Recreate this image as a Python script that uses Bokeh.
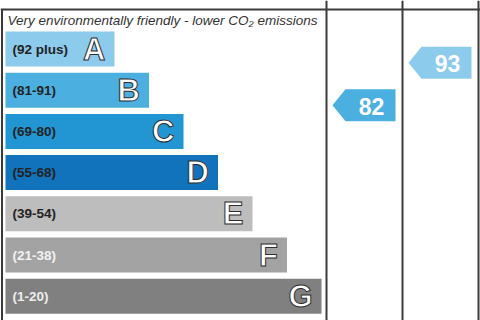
from bokeh.plotting import figure
from bokeh.models import ColumnDataSource, Range1d
from bokeh.core.properties import value
from bokeh.embed import file_html
from bokeh.resources import INLINE

# ---- data ----
bands = ["A", "B", "C", "D", "E", "F", "G"]
band_ranges = ["(92 plus)", "(81-91)", "(69-80)", "(55-68)", "(39-54)", "(21-38)", "(1-20)"]
band_lo = [92, 81, 69, 55, 39, 21, 1]
band_hi = [100, 91, 80, 68, 54, 38, 20]
current_score = 82
potential_score = 93
column_titles = ["Current", "Potential"]
top_note = "Very environmentally friendly - lower CO\u2082 emissions"
bottom_note = "Not environmentally friendly - higher CO\u2082 emissions"

# ---- styles ----
bar_colors = ["#8ccbeb", "#4bb0e0", "#2196d3", "#1173bb", "#bdbdbd", "#a3a3a3", "#808080"]
label_colors = ["#222222"] * 5 + ["#f2f2f2", "#eeeeee"]
line_color = "#3a3a3a"
W, H = 480, 320
bar_left = 5
bar_first_right = 114
bar_step = 34.5
row_top0 = 31
row_pitch = 41.2
bar_h = 35
col_edges = [326, 402, 478]

p = figure(width=W, height=H, output_backend="svg", toolbar_location=None,
           x_range=Range1d(0, W), y_range=Range1d(H, 0), min_border=0)
p.axis.visible = False
p.grid.visible = False
p.outline_line_color = None
p.background_fill_color = "white"

n = len(bands)
tops = [row_top0 + i * row_pitch for i in range(n)]
rights = [bar_first_right + i * bar_step for i in range(n)]
src = ColumnDataSource(dict(
    left=[bar_left] * n, right=rights, top=tops, bottom=[t + bar_h for t in tops],
    yc=[t + bar_h / 2 for t in tops], color=bar_colors, band=bands,
    rng=band_ranges, lblcol=label_colors,
    lx=[bar_left + 7] * n, bx=[r - 9 for r in rights],
))
p.quad(left="left", right="right", top="top", bottom="bottom", fill_color="color",
       line_color=None, source=src)
p.text(x="lx", y="yc", text="rng", text_color="lblcol", source=src,
       text_font=value("Liberation Sans"), text_font_style="bold",
       text_font_size="13.5px", text_baseline="middle", text_align="left")
p.text(x="bx", y="yc", text="band", text_color="white", source=src,
       text_font=value("Liberation Sans"), text_font_style="bold",
       text_font_size="31px", text_baseline="middle", text_align="right",
       text_outline_color="#2e2e2e")

# frame lines
p.segment(x0=[0], y0=[9], x1=[W], y1=[9], line_color=line_color, line_width=2)
p.segment(x0=[1.5] + col_edges, y0=[9, 0, 0, 0], x1=[1.5] + col_edges, y1=[H] * 4,
          line_color=line_color, line_width=2)

# notes
p.text(x=[7], y=[19.5], text=[top_note], text_font=value("Liberation Sans"),
       text_font_style="italic", text_font_size="13.5px", text_color="#333333",
       text_baseline="middle")
p.text(x=[7], y=[316], text=[bottom_note], text_font=value("Liberation Sans"),
       text_font_style="italic", text_font_size="13.5px", text_color="#333333",
       text_baseline="top")
p.text(x=[(col_edges[0] + col_edges[1]) / 2, (col_edges[1] + col_edges[2]) / 2],
       y=[2, 2], text=column_titles, text_font=value("Liberation Sans"),
       text_font_style="bold", text_font_size="12px", text_color="#444444",
       text_baseline="bottom", text_align="center")

# arrows
def score_y(score):
    for i in range(n):
        if band_lo[i] <= score <= band_hi[i]:
            mid = (band_lo[i] + band_hi[i]) / 2
            return tops[i] + bar_h / 2 + (mid - score) / (band_hi[i] - band_lo[i] + 1) * row_pitch
    return tops[-1]

def band_index(score):
    for i in range(n):
        if band_lo[i] <= score <= band_hi[i]:
            return i
    return n - 1

xs, ys, cols, tx, ty, tt = [], [], [], [], [], []
for k, sc in enumerate([current_score, potential_score]):
    c0, c1 = col_edges[k], col_edges[k + 1]
    yc = score_y(sc)
    l, r, tip, h2 = c0 + 6, c1 - 7, 13, 16
    xs.append([l, l + tip, r, r, l + tip])
    ys.append([yc, yc - h2, yc - h2, yc + h2, yc + h2])
    cols.append(bar_colors[band_index(sc)])
    tx.append((l + tip + r) / 2 + 1)
    ty.append(yc + 1)
    tt.append(str(sc))
p.patches(xs=xs, ys=ys, fill_color=cols, line_color=None)
p.text(x=tx, y=ty, text=tt, text_color="white", text_font=value("Liberation Sans"),
       text_font_style="bold", text_font_size="23px", text_baseline="middle",
       text_align="center")

open("out.html", "w").write(file_html(p, INLINE))
